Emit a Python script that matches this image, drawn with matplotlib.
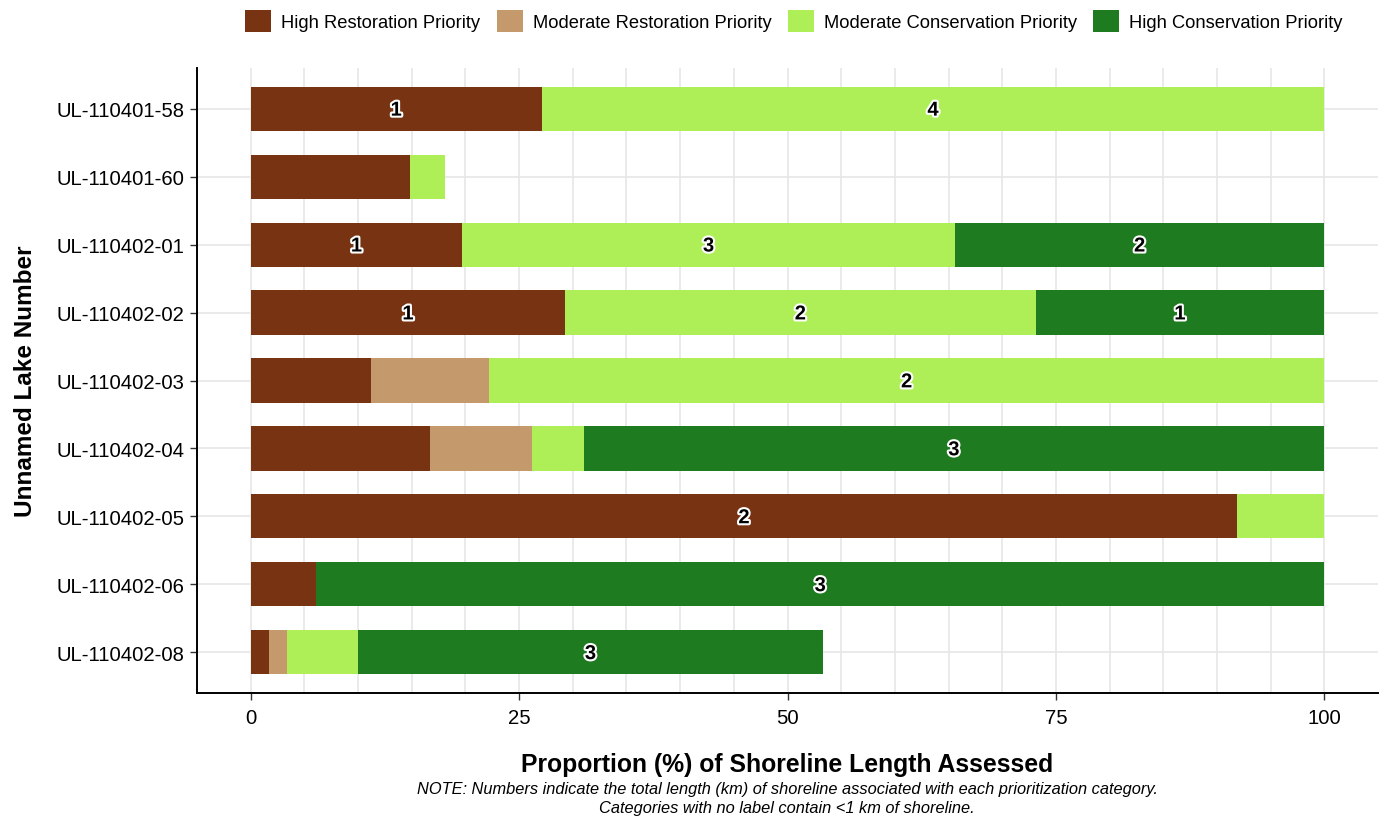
import matplotlib
matplotlib.use("Agg")
import matplotlib.pyplot as plt
import matplotlib.patheffects as pe
from matplotlib.patches import Patch
import numpy as np

plt.rcParams['font.family'] = ['Liberation Sans', 'DejaVu Sans']

lakes = ["UL-110401-58", "UL-110401-60", "UL-110402-01", "UL-110402-02",
         "UL-110402-03", "UL-110402-04", "UL-110402-05", "UL-110402-06",
         "UL-110402-08"]
categories = ["High Restoration Priority", "Moderate Restoration Priority",
              "Moderate Conservation Priority", "High Conservation Priority"]
colors = ["#783412", "#C49A6C", "#AEEF58", "#1F7B1F"]

high_rest = [27.1, 14.8, 19.7, 29.3, 11.2, 16.7, 91.9, 6.1, 1.7]
mod_rest = [0.0, 0.0, 0.0, 0.0, 11.0, 9.5, 0.0, 0.0, 1.7]
mod_cons = [72.9, 3.3, 45.9, 43.8, 77.8, 4.8, 8.1, 0.0, 6.6]
high_cons = [0.0, 0.0, 34.4, 26.9, 0.0, 69.0, 0.0, 93.9, 43.3]

lab_high_rest = ["1", "", "1", "1", "", "", "2", "", ""]
lab_mod_rest = ["", "", "", "", "", "", "", "", ""]
lab_mod_cons = ["4", "", "3", "2", "2", "", "", "", ""]
lab_high_cons = ["", "", "2", "1", "", "3", "", "3", "3"]

series = [high_rest, mod_rest, mod_cons, high_cons]
labels = [lab_high_rest, lab_mod_rest, lab_mod_cons, lab_high_cons]

fig = plt.figure(figsize=(13.84, 8.2), dpi=100)
ax = fig.add_axes([197/1384, 1 - 694/820, (1378-197)/1384, (694-69)/820])

ypos = np.arange(len(lakes))[::-1] + 1
left = np.zeros(len(lakes))
for vals, labs, col in zip(series, labels, colors):
    vals = np.array(vals)
    ax.barh(ypos, vals, left=left, height=0.65, color=col, edgecolor='none', zorder=2)
    for y, l, v, t in zip(ypos, left, vals, labs):
        if t:
            ax.text(l + v/2, y - 0.02, t, ha='center', va='center', fontsize=14.5,
                    fontweight='bold', color='black', zorder=3,
                    path_effects=[pe.withStroke(linewidth=3, foreground='white')])
    left = left + vals

ax.set_xlim(-5, 105)
ax.set_ylim(0.4, len(lakes) + 0.6)
ax.set_yticks(ypos)
ax.set_yticklabels(lakes, fontsize=14.6)
ax.set_xticks([0, 25, 50, 75, 100])
ax.set_xticklabels(["0", "25", "50", "75", "100"], fontsize=14.6)
ax.set_xticks(np.arange(0, 101, 5), minor=True)
ax.grid(True, which='both', axis='x', color='#E6E6E6', linewidth=1.2, zorder=0)
ax.grid(True, which='major', axis='y', color='#E6E6E6', linewidth=1.2, zorder=0)
ax.set_axisbelow(True)
ax.tick_params(axis='x', which='minor', length=0)
ax.tick_params(axis='y', which='major', length=5, width=1, color='#333333', pad=4)
ax.tick_params(axis='x', which='major', length=5, width=1, color='#333333', pad=6)
for s in ['top', 'right']:
    ax.spines[s].set_visible(False)
for s in ['left', 'bottom']:
    ax.spines[s].set_linewidth(1.4)
    ax.spines[s].set_color('black')

ax.set_ylabel("Unnamed Lake Number", fontsize=17.5, fontweight='bold', labelpad=14)
fig.text(787/1384, 1 - 765/820, "Proportion (%) of Shoreline Length Assessed",
         ha='center', va='center', fontsize=17.8, fontweight='bold')
fig.text(787/1384, 1 - 799/820,
         "NOTE: Numbers indicate the total length (km) of shoreline associated with each prioritization category.\nCategories with no label contain <1 km of shoreline.",
         ha='center', va='center', fontsize=11.8, style='italic', linespacing=1.3)

handles = [Patch(facecolor=c, edgecolor='none', label=l) for c, l in zip(colors, categories)]
fig.legend(handles=handles, loc='center', bbox_to_anchor=(794/1384, 1 - 22/820), ncol=4,
           frameon=False, fontsize=13.2, handlelength=1.4, handleheight=1.4,
           columnspacing=0.9, handletextpad=0.55)

fig.savefig("out.png", dpi=100)
